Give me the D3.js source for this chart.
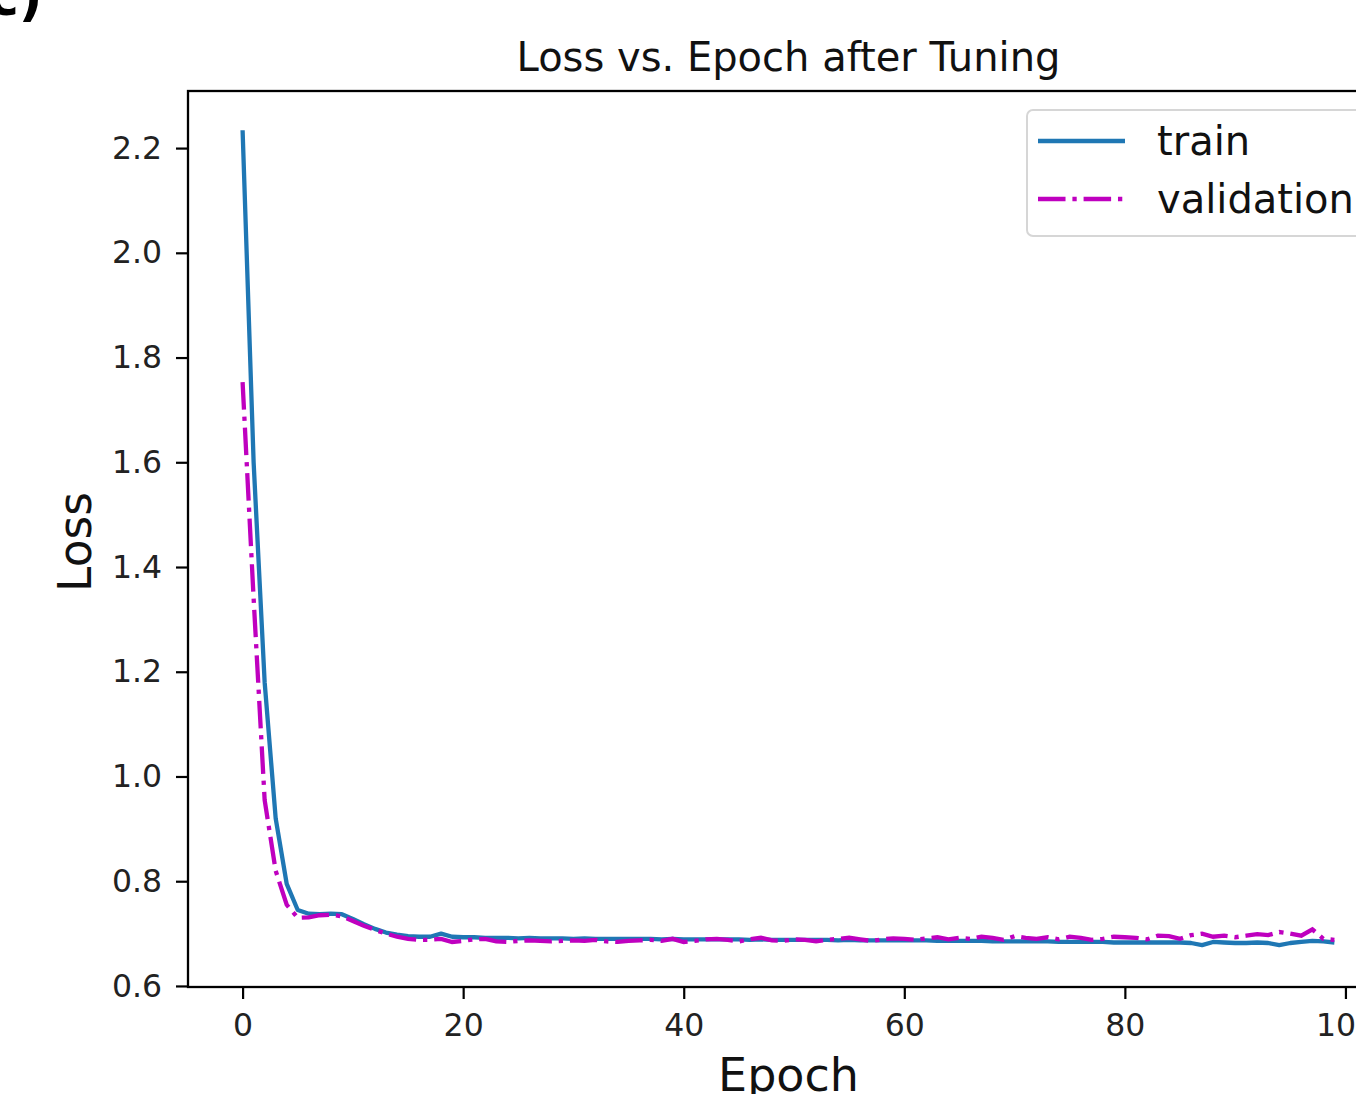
<!DOCTYPE html>
<html>
<head>
<meta charset="utf-8">
<script src="https://cdn.jsdelivr.net/npm/d3@7"></script>
<style>
  body { margin: 0; background: #fff; }
  svg { display: block; font-family: "DejaVu Sans", sans-serif; }
</style>
</head>
<body>
<script>
const width = 1356;
const height = 1094;
const plotLeft = 188;
const plotRight = 1389;
const plotTop = 91;
const plotBottom = 987;

const epochs = d3.range(0, 100);
const trainLoss = [
  2.234, 1.600, 1.180, 0.920, 0.795, 0.745, 0.738, 0.737, 0.738, 0.737,
  0.728, 0.718, 0.709, 0.702, 0.698, 0.695, 0.694, 0.694, 0.700, 0.694,
  0.693, 0.693, 0.692, 0.692, 0.692, 0.691, 0.692, 0.691, 0.691, 0.691,
  0.690, 0.691, 0.690, 0.690, 0.690, 0.690, 0.690, 0.690, 0.689, 0.690,
  0.689, 0.689, 0.689, 0.689, 0.689, 0.689, 0.688, 0.689, 0.688, 0.688,
  0.688, 0.688, 0.688, 0.688, 0.687, 0.688, 0.687, 0.687, 0.687, 0.687,
  0.687, 0.687, 0.687, 0.686, 0.686, 0.686, 0.686, 0.686, 0.685, 0.685,
  0.685, 0.685, 0.685, 0.685, 0.684, 0.684, 0.684, 0.684, 0.684, 0.683,
  0.683, 0.683, 0.683, 0.683, 0.683, 0.683, 0.682, 0.678, 0.684, 0.683,
  0.682, 0.682, 0.683, 0.682, 0.678, 0.682, 0.684, 0.686, 0.685, 0.683
];
const validationLoss = [
  1.753, 1.340, 0.955, 0.820, 0.755, 0.730, 0.731, 0.735, 0.736, 0.733,
  0.724, 0.715, 0.707, 0.700, 0.694, 0.690, 0.688, 0.688, 0.690, 0.684,
  0.686, 0.689, 0.690, 0.685, 0.684, 0.686, 0.687, 0.686, 0.685, 0.686,
  0.687, 0.686, 0.688, 0.685, 0.684, 0.686, 0.687, 0.688, 0.686, 0.690,
  0.684, 0.686, 0.689, 0.690, 0.688, 0.685, 0.689, 0.692, 0.687, 0.686,
  0.689, 0.688, 0.685, 0.688, 0.690, 0.692, 0.689, 0.686, 0.689, 0.691,
  0.690, 0.688, 0.691, 0.693, 0.689, 0.692, 0.690, 0.694, 0.692, 0.688,
  0.695, 0.692, 0.690, 0.693, 0.689, 0.694, 0.692, 0.688, 0.690, 0.694,
  0.693, 0.692, 0.689, 0.696, 0.695, 0.690, 0.697, 0.700, 0.694, 0.696,
  0.693, 0.696, 0.699, 0.697, 0.703, 0.700, 0.696, 0.708, 0.690, 0.688
];
const xTicks = [0, 20, 40, 60, 80, 100];
const yTicks = [0.6, 0.8, 1.0, 1.2, 1.4, 1.6, 1.8, 2.0, 2.2];
const seriesNames = ['train', 'validation'];
const seriesColors = ['#1f77b4', '#bf00bf'];

const lineWidth = 4.3;
const dashDot = [6.4, 1.6, 1, 1.6].map(d => d * lineWidth).join(',');

const xScale = d3.scaleLinear()
                .domain([-4.95, 103.95])
                .range([plotLeft, plotRight]);

const yScale = d3.scaleLinear()
                .domain([0.598, 2.309])
                .range([plotBottom, plotTop]);

const svg = d3.select('body')
              .append('svg')
              .attr('width', width)
              .attr('height', height);

// bit of a panel label cut off at the top
svg.append('text')
    .attr('x', -12)
    .attr('y', 15)
    .attr('font-size', 52)
    .attr('font-weight', 'bold')
    .text('c)');

const line = d3.line()
               .x((d, i) => xScale(epochs[i]))
               .y(d => yScale(d));

const plot = svg.append('g');

plot.append('path')
    .datum(trainLoss)
    .attr('d', line)
    .attr('fill', 'none')
    .attr('stroke', seriesColors[0])
    .attr('stroke-width', lineWidth)
    .attr('stroke-linejoin', 'round');

plot.append('path')
    .datum(validationLoss)
    .attr('d', line)
    .attr('fill', 'none')
    .attr('stroke', seriesColors[1])
    .attr('stroke-width', lineWidth)
    .attr('stroke-dasharray', dashDot);

const xAxis = d3.axisBottom(xScale)
                .tickValues(xTicks)
                .tickFormat(d3.format('d'))
                .tickSize(12)
                .tickPadding(15);

const yAxis = d3.axisLeft(yScale)
                .tickValues(yTicks)
                .tickFormat(d3.format('.1f'))
                .tickSize(12)
                .tickPadding(14);

const gx = svg.append('g')
    .attr('transform', 'translate(0,' + plotBottom + ')')
    .call(xAxis);

const gy = svg.append('g')
    .attr('transform', 'translate(' + plotLeft + ',0)')
    .call(yAxis);

[gx, gy].forEach(g => {
  g.select('.domain').remove();
  g.selectAll('.tick line').attr('stroke', '#000').attr('stroke-width', 2.2);
  g.selectAll('.tick text')
    .attr('font-size', 31.5)
    .attr('fill', '#222')
    .attr('font-family', '"DejaVu Sans", sans-serif');
});

// frame
svg.append('rect')
    .attr('x', plotLeft)
    .attr('y', plotTop)
    .attr('width', plotRight - plotLeft)
    .attr('height', plotBottom - plotTop)
    .attr('fill', 'none')
    .attr('stroke', '#000')
    .attr('stroke-width', 2.3);

svg.append('text')
    .attr('x', (plotLeft + plotRight) / 2)
    .attr('y', 71)
    .attr('text-anchor', 'middle')
    .attr('font-size', 40)
    .attr('fill', '#111')
    .text('Loss vs. Epoch after Tuning');

svg.append('text')
    .attr('x', (plotLeft + plotRight) / 2)
    .attr('y', 1091)
    .attr('text-anchor', 'middle')
    .attr('font-size', 46)
    .attr('fill', '#111')
    .text('Epoch');

svg.append('text')
    .attr('transform', 'translate(91,542) rotate(-90)')
    .attr('text-anchor', 'middle')
    .attr('font-size', 45.5)
    .attr('fill', '#111')
    .text('Loss');

// legend
const legend = svg.append('g');

legend.append('rect')
    .attr('x', 1027)
    .attr('y', 110)
    .attr('width', 380)
    .attr('height', 126)
    .attr('rx', 6)
    .attr('fill', '#fff')
    .attr('fill-opacity', 0.8)
    .attr('stroke', '#d6d6d6')
    .attr('stroke-width', 2);

seriesNames.forEach((name, i) => {
  const y = 141 + i * 58;
  legend.append('line')
      .attr('x1', 1038)
      .attr('x2', 1125)
      .attr('y1', y)
      .attr('y2', y)
      .attr('stroke', seriesColors[i])
      .attr('stroke-width', lineWidth)
      .attr('stroke-dasharray', i === 1 ? dashDot : null);
  legend.append('text')
      .attr('x', 1157)
      .attr('y', y + 14)
      .attr('font-size', 40)
      .attr('fill', '#111')
      .text(name);
});
</script>
</body>
</html>
